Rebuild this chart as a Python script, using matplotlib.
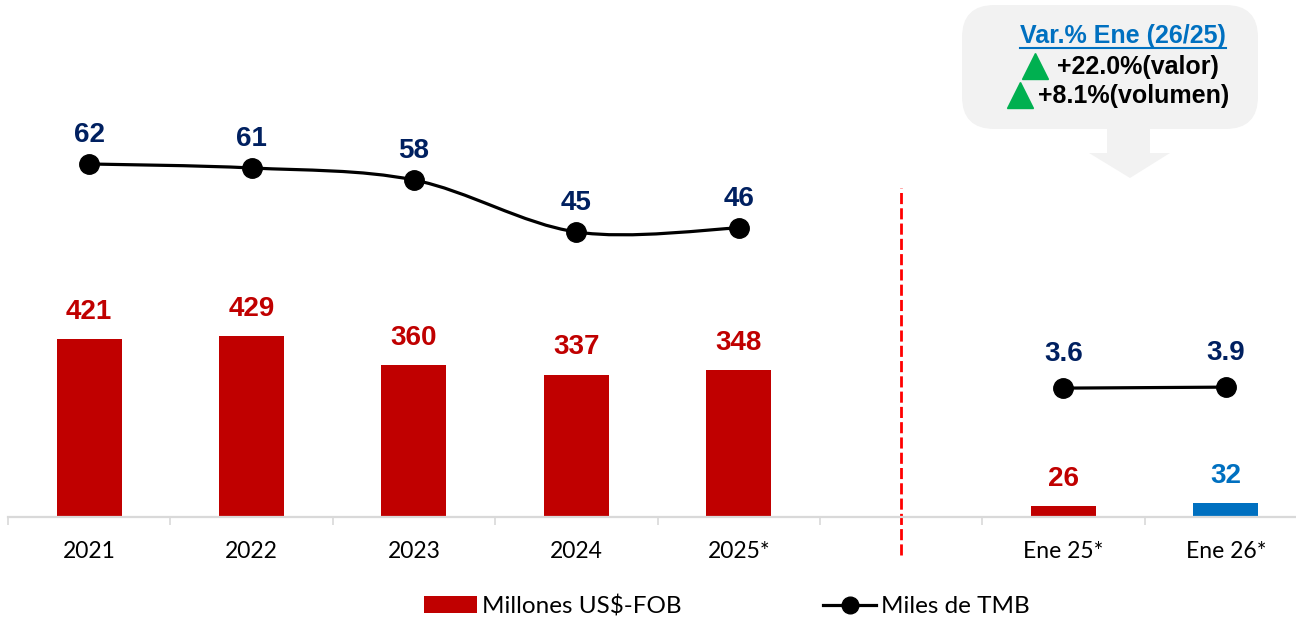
import numpy as np
import matplotlib
matplotlib.use("Agg")
from matplotlib import pyplot as plt
from matplotlib.path import Path
from matplotlib.patches import PathPatch, Patch, FancyBboxPatch, Polygon
from matplotlib.lines import Line2D

# data
years = ["2021", "2022", "2023", "2024", "2025*"]
valor_anual = [421, 429, 360, 337, 348]          # Millones US$-FOB
volumen_anual = [62, 61, 58, 45, 46]             # Miles de TMB
meses = ["Ene 25*", "Ene 26*"]
valor_ene = [26, 32]
volumen_ene = [3.6, 3.9]
var_titulo = "Var.% Ene (26/25)"
var_valor = "+22.0%(valor)"
var_volumen = "+8.1%(volumen)"

RED = "#C00000"
BLUE = "#0070C0"
NAVY = "#002060"
GRAY = "#D9D9D9"

W, H = 1296, 619
BOLD = dict(family="Liberation Sans", fontweight="bold")


def fx(px):
    return px / W


def fy(py):
    return 1 - py / H


def smooth_path(xs, ys):
    # bezier through the points (Excel style smoothed line)
    pts = np.column_stack([xs, ys]).astype(float)
    n = len(pts)
    verts = [pts[0]]
    codes = [Path.MOVETO]
    for i in range(n - 1):
        p0 = pts[max(i - 1, 0)]
        p1 = pts[i]
        p2 = pts[i + 1]
        p3 = pts[min(i + 2, n - 1)]
        verts += [p1 + (p2 - p0) / 6, p2 - (p3 - p1) / 6, p2]
        codes += [Path.CURVE4] * 3
    return Path(verts, codes)


fig = plt.figure(figsize=(12.96, 6.19), dpi=100)
ax = fig.add_axes([fx(8), 102 / H, 1299 / W, 517 / H])

x_anual = np.arange(len(years))
x_ene = np.arange(len(meses)) + len(years) + 1
categorias = years + [""] + meses

ax.bar(x_anual, valor_anual, width=0.4, color=RED)
ax.bar(x_ene, valor_ene, width=0.4, color=[RED, BLUE])
ax.set_xlim(-0.5, len(categorias) - 0.5)
ax.set_ylim(0, 1222.8)

for x, v in zip(x_anual, valor_anual):
    ax.annotate(str(v), (x, v), xytext=(0, 19.5), textcoords="offset points",
                ha="center", va="center", color=RED, fontsize=20, **BOLD)
for x, v, c in zip(x_ene, valor_ene, [RED, BLUE]):
    ax.annotate(str(v), (x, v), xytext=(0, 19.5), textcoords="offset points",
                ha="center", va="center", color=c, fontsize=20, **BOLD)

# axis styling
for s in ["top", "left", "right"]:
    ax.spines[s].set_visible(False)
ax.spines["bottom"].set_color(GRAY)
ax.spines["bottom"].set_linewidth(1.6)
ax.set_yticks([])
ax.set_xticks(range(len(categorias)))
ax.set_xticklabels(categorias, fontsize=16.5, family="Lato")
ax.set_xticks(np.arange(-0.5, len(categorias), 1), minor=True)
ax.tick_params(axis="x", which="major", length=0, pad=17)
ax.tick_params(axis="x", which="minor", length=6, width=1.2, color=GRAY)

# separator
ax.plot([5, 5], [-90, 778], color="#FF0000", lw=2, ls=(0, (4, 1.5)), clip_on=False)

# volume lines
ax2 = ax.twinx()
ax2.set_ylim(-26.25, 102.99)
ax2.axis("off")
ax2.add_patch(PathPatch(smooth_path(x_anual, volumen_anual), fill=False, lw=2.3, color="black"))
ax2.plot(x_anual, volumen_anual, "o", color="black", markersize=14)
for x, v in zip(x_anual, volumen_anual):
    ax2.annotate(str(v), (x, v), xytext=(0, 21), textcoords="offset points",
                 ha="center", va="center", color=NAVY, fontsize=20, **BOLD)

ax3 = ax.twinx()
ax3.set_ylim(-35.45, 121.2)
ax3.axis("off")
ax3.plot(x_ene, volumen_ene, "-o", color="black", lw=2.3, markersize=14)
for x, v in zip(x_ene, volumen_ene):
    ax3.annotate(f"{v:.1f}", (x, v), xytext=(0, 24.5), textcoords="offset points",
                 ha="center", va="center", color=NAVY, fontsize=20, **BOLD)

# callout box with arrow
box = FancyBboxPatch((fx(962), fy(129)), fx(1258) - fx(962), fy(5) - fy(129),
                     boxstyle="round,pad=0,rounding_size=0.025", transform=fig.transFigure,
                     facecolor="#F2F2F2", edgecolor="none", mutation_aspect=W / H)
fig.add_artist(box)
arrow = Polygon([(fx(1107), fy(129)), (fx(1150), fy(129)), (fx(1150), fy(153)),
                 (fx(1170), fy(153)), (fx(1130), fy(178)), (fx(1089), fy(153)),
                 (fx(1107), fy(153))], closed=True, transform=fig.transFigure,
                facecolor="#F2F2F2", edgecolor="none")
fig.add_artist(arrow)

t = fig.text(fx(1123), fy(36), var_titulo, ha="center", va="center",
             color=BLUE, fontsize=18, **BOLD)
fig.text(fx(1057), fy(67), var_valor, ha="left", va="center", color="black", fontsize=18, **BOLD)
fig.text(fx(1038), fy(96), var_volumen, ha="left", va="center", color="black", fontsize=18, **BOLD)
fig.add_artist(Line2D([fx(1035)], [fy(66)], marker="^", markersize=19, color="#00B050",
                      transform=fig.transFigure))
fig.add_artist(Line2D([fx(1020)], [fy(95)], marker="^", markersize=19, color="#00B050",
                      transform=fig.transFigure))

fig.canvas.draw()
bb = t.get_window_extent()
fig.add_artist(Line2D([bb.x0 / W, bb.x1 / W], [fy(48), fy(48)], color=BLUE, lw=1.5,
                      transform=fig.transFigure))

# legend
handles = [Patch(facecolor=RED, edgecolor="none"),
           Line2D([], [], color="black", lw=2.3, marker="o", markersize=12)]
fig.legend(handles, ["Millones US$-FOB", "Miles de TMB"], loc="center",
           bbox_to_anchor=(fx(727), fy(606)), ncol=2, frameon=False,
           prop=dict(family="Lato", size=17.5), handlelength=2.2, handleheight=0.65,
           handletextpad=0.2, columnspacing=5.8)

fig.savefig("out.png", dpi=100)
